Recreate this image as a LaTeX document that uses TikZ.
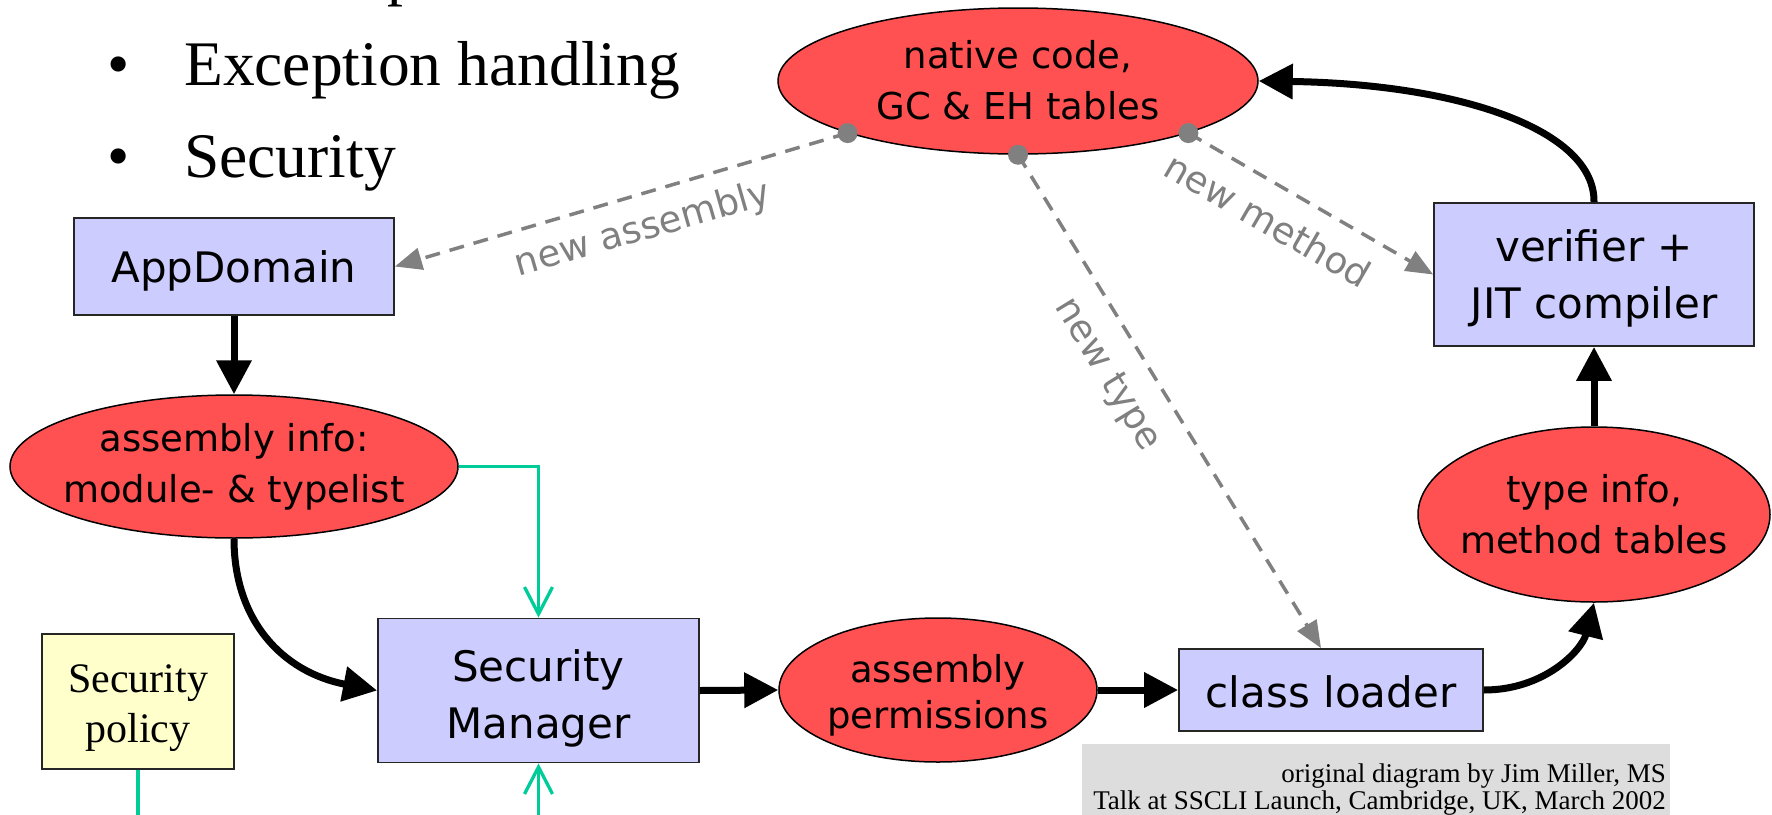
\documentclass[tikz,border=0pt]{standalone}
\usepackage{fontspec}
\setmainfont{Liberation Serif}
\newfontfamily\lblfont{DejaVu Sans}
\usetikzlibrary{arrows.meta,shapes.geometric}

\definecolor{nodered}{HTML}{FF5151}
\definecolor{boxblue}{HTML}{CCCCFF}
\definecolor{policyyellow}{HTML}{FFFFCC}
\definecolor{flowgreen}{HTML}{00CC99}
\definecolor{hintgrey}{HTML}{808080}
\definecolor{creditgrey}{HTML}{DDDDDD}

\begin{document}
\begin{tikzpicture}[x=1pt,y=-1pt,
  stepbox/.style={draw=black!85, line width=1.8pt, fill=boxblue, inner sep=0pt},
  boxtext/.style={align=center, inner sep=0pt, font=\lblfont\fontsize{42}{57}\selectfont},
  dataell/.style={ellipse, draw=black, line width=1.5pt, fill=nodered, inner sep=0pt},
  elltext/.style={align=center, inner sep=0pt, font=\lblfont\fontsize{37}{51}\selectfont},
  slidetext/.style={inner sep=0pt, font=\fontsize{63.5}{92}\selectfont},
  credittext/.style={inner sep=0pt, anchor=base east, font=\fontsize{27}{26}\selectfont},
  flow/.style={line width=7pt, -{Triangle[length=34pt,width=34pt]}},
  hint/.style={hintgrey, line width=3.5pt, dash pattern=on 15pt off 10pt,
    -{Triangle[length=27pt,width=22pt]}},
  hinttext/.style={text=hintgrey, inner sep=0pt, font=\lblfont\fontsize{37}{42}\selectfont},
  secflow/.style={flowgreen, line width=3.3pt, -{Straight Barb[length=27pt,width=28pt]}},
  secline/.style={flowgreen, line width=3.3pt},
]
\clip (0,0) rectangle (1772,814);

% slide text behind the diagram
\node[slidetext, anchor=base west] (item0) at (387,-7) {p};
\node[slidetext, anchor=base] (bul1) at (119,85) {\textbullet};
\node[slidetext, anchor=base west] (item1) at (184,85) {Exception handling};
\node[slidetext, anchor=base] (bul2) at (119,177) {\textbullet};
\node[slidetext, anchor=base west] (item2) at (184,177) {Security};

% credit panel
\node[fill=creditgrey, inner sep=0pt, minimum width=588, minimum height=90,
  anchor=north west] (credit) at (1082,744) {};
\node[credittext] (credit1) at (1666,782) {original diagram by Jim Miller, MS};
\node[credittext] (credit2) at (1666,809) {Talk at SSCLI Launch, Cambridge, UK, March 2002};

% data (ellipses)
\node[dataell, minimum width=480, minimum height=146] (native) at (1018,81) {};
\node[elltext] (nativetxt) at ([yshift=1pt]native.center) {native code,\\GC \& EH tables};
\node[dataell, minimum width=448, minimum height=143] (asminfo) at (234,466.5) {};
\node[elltext] (asminfotxt) at (asminfo.center) {assembly info:\\module- \& typelist};
\node[dataell, minimum width=318, minimum height=144] (asmperm) at (938,690) {};
\node[elltext, font=\lblfont\fontsize{37}{46}\selectfont] (asmpermtxt)
  at ([yshift=-5pt]asmperm.center) {assembly\\permissions};
\node[dataell, minimum width=352, minimum height=175] (typeinfo) at (1594,514.5) {};
\node[elltext] (typeinfotxt) at (typeinfo.center) {type info,\\method tables};

% processing steps (boxes)
\node[stepbox, minimum width=320, minimum height=97] (appdom) at (234,266.5) {};
\node[boxtext] (appdomtxt) at ([yshift=-4pt]appdom.center) {AppDomain};
\node[stepbox, minimum width=321, minimum height=144] (secmgr) at (538.5,690.5) {};
\node[boxtext] (secmgrtxt) at ([yshift=-8pt]secmgr.center) {Security\\Manager};
\node[stepbox, minimum width=304, minimum height=82] (loader) at (1331,690) {};
\node[boxtext] (loadertxt) at ([yshift=-2pt]loader.center) {class loader};
\node[stepbox, minimum width=320, minimum height=143] (verifier) at (1594,274.5) {};
\node[boxtext] (verifiertxt) at ([yshift=-4pt]verifier.center) {verifier +\\JIT compiler};
\node[stepbox, fill=policyyellow, minimum width=192, minimum height=135] (secpol) at (138,701.5) {};
\node[align=center, inner sep=0pt, font=\fontsize{42}{50}\selectfont] (secpoltxt)
  at ([yshift=-7pt]secpol.center) {Security\\policy};

% main flow
\draw[flow] (appdom.south) -- (asminfo.north);
\draw[flow] (asminfo.south) .. controls (234,620) and (282,672) .. (secmgr.west);
\draw[flow] (secmgr.east) -- (asmperm.west);
\draw[flow] (asmperm.east) -- (loader.west);
\draw[flow] (loader.east) .. controls (1545,690) and (1582,650) .. (typeinfo.south);
\draw[flow] (typeinfo.north) -- (verifier.south);
\draw[flow] (verifier.north) .. controls (1595,130) and (1460,84) .. (native.east);

% security inputs
\coordinate (smfeed) at (538.5,830);
\coordinate (polfeed) at (138,830);
\draw[secflow] (asminfo.east) -| (secmgr.north);
\draw[secflow] (smfeed) -- (secmgr.south);
\draw[secline] (secpol.south) -- (polfeed);

% on-demand requests from the native code
\coordinate (dasm) at (native.197);
\coordinate (dtype) at (native.south);
\coordinate (dmeth) at (native.-17);
\coordinate (loadertop) at ([xshift=-10pt]loader.north);
\draw[hint] (dasm) -- (appdom.east);
\draw[hint] (dtype) -- (loadertop);
\draw[hint] (dmeth) -- (verifier.west);
\fill[hintgrey] (dasm) circle (10);
\fill[hintgrey] (dtype) circle (10);
\fill[hintgrey] (dmeth) circle (10);
\node[hinttext, rotate=16] (lblasm) at (643,230) {new assembly};
\node[hinttext, rotate=-30] (lblmeth) at (1268,220) {new method};
\node[hinttext, rotate=-58.5] (lbltype) at (1107,375) {new type};
\end{tikzpicture}
\end{document}
